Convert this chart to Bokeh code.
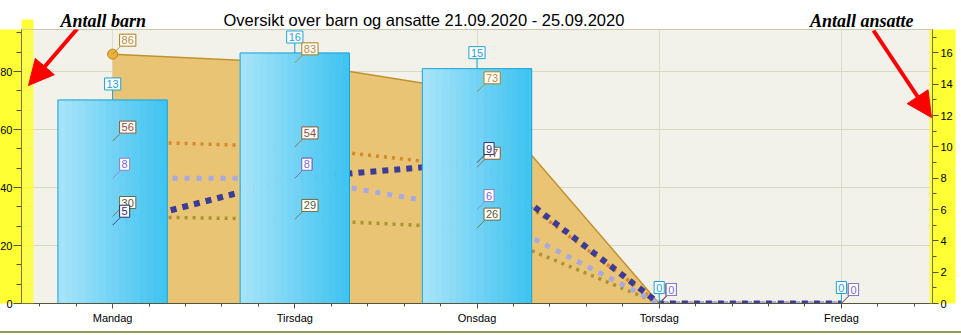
import math
from bokeh.plotting import figure
from bokeh.layouts import column
from bokeh.models import (Range1d, LinearAxis, SingleIntervalTicker, Label, Arrow, NormalHead,
                          BoxAnnotation)
from bokeh.core.properties import value
from bokeh.embed import file_html
from bokeh.resources import INLINE

# ---------------- data ----------------
days = ["Mandag", "Tirsdag", "Onsdag", "Torsdag", "Fredag"]
barn_total = [86, 83, 73, 0, 0]        # area, left axis
barn_gruppe_a = [56, 54, 47, 0, 0]     # orange dotted, left axis
barn_gruppe_b = [30, 29, 26, 0, 0]     # olive dotted, left axis
ansatte_total = [13, 16, 15, 0, 0]     # bars, right axis
ansatte_a = [5, 8, 9, 0, 0]            # navy dotted, right axis
ansatte_b = [8, 8, 6, 0, 0]            # lilac dotted, right axis
title_text = "Oversikt over barn og ansatte 21.09.2020 - 25.09.2020"
note_left = "Antall barn"
note_right = "Antall ansatte"

FONT = "Liberation Sans"
NOTE_FONT = "Liberation Serif"
YELLOW = "#ffff33"
SHIFT = 4                 # canvas shifted left so the frame starts where the original one does
W = 961 + SHIFT
HEAD_H = 29
FRAME_L = 21              # frame left edge in page pixels
FRAME_R = 932             # frame right edge in page pixels
x = list(range(len(days)))

# ---------------- header strip (title + notes) ----------------
hd = figure(width=W, height=HEAD_H, output_backend="svg", toolbar_location=None,
            x_range=Range1d(FRAME_L, FRAME_R), y_range=Range1d(HEAD_H, 0),
            x_axis_type=None, y_axis_type=None, min_border=0,
            min_border_left=21 + SHIFT, min_border_right=29)
hd.outline_line_color = None
hd.background_fill_color = "white"
hd.border_fill_color = "white"
hd.grid.visible = False
hd.add_layout(BoxAnnotation(left=FRAME_L, right=33, top=19, bottom=HEAD_H, fill_color=YELLOW,
                            fill_alpha=1, line_color=None))
hd.add_layout(Label(x=223, y=19, text=title_text, text_font=FONT, text_font_size="16.5px",
                    text_color="black", text_baseline="alphabetic"))
hd.add_layout(Label(x=60, y=20, text=note_left, text_font=NOTE_FONT,
                    text_font_style="bold italic", text_font_size="18px",
                    text_color="black", text_baseline="alphabetic"))
hd.add_layout(Label(x=913, y=20, text=note_right, text_font=NOTE_FONT,
                    text_font_style="bold italic", text_font_size="18px",
                    text_color="black", text_baseline="alphabetic", text_align="right"))

# ---------------- main chart ----------------
p = figure(width=W, height=304, output_backend="svg", toolbar_location=None, title=None,
           x_range=Range1d(-0.5, len(days) - 0.5), y_range=Range1d(0, 94.5),
           min_border_left=21 + SHIFT, min_border_right=29, min_border_top=0, min_border_bottom=30)
p.extra_y_ranges = {"ansatte": Range1d(0, 17.5)}
p.styles = {"border-bottom": "2px solid #8c9a56"}

p.background_fill_color = "#f2f1ea"
p.border_fill_color = "white"
p.outline_line_color = "#c9c9b2"

AX = "#55553a"
# x axis
xa = p.xaxis[0]
xa.ticker = SingleIntervalTicker(interval=1, num_minor_ticks=5)
xa.major_label_overrides = {i: d for i, d in enumerate(days)}
xa.major_tick_out = 5
xa.major_tick_in = 0
xa.minor_tick_out = 3
xa.minor_tick_in = 0
xa.major_label_standoff = 3
xa.axis_line_color = AX
xa.major_tick_line_color = AX
xa.minor_tick_line_color = AX
xa.major_label_text_font = FONT
xa.major_label_text_font_size = "11px"
xa.major_label_text_color = "black"

# left axis
ya = p.yaxis[0]
ya.ticker = SingleIntervalTicker(interval=20, num_minor_ticks=3)
ya.major_tick_out = 8
ya.major_tick_in = 0
ya.minor_tick_out = 5
ya.minor_tick_in = 0
ya.major_label_standoff = 1
ya.axis_line_color = AX
ya.major_tick_line_color = AX
ya.minor_tick_line_color = AX
ya.major_label_text_font = FONT
ya.major_label_text_font_size = "11px"
ya.major_label_text_color = "black"
ya.background_fill_color = YELLOW

# right axis
ra = LinearAxis(y_range_name="ansatte", ticker=SingleIntervalTicker(interval=2, num_minor_ticks=2))
ra.major_tick_out = 6
ra.major_tick_in = 0
ra.minor_tick_out = 4
ra.minor_tick_in = 0
ra.major_label_standoff = 2
ra.axis_line_color = AX
ra.major_tick_line_color = AX
ra.minor_tick_line_color = AX
ra.major_label_text_font = FONT
ra.major_label_text_font_size = "11px"
ra.major_label_text_color = "black"
ra.background_fill_color = YELLOW
p.add_layout(ra, "right")

p.xgrid.grid_line_color = "#dcdcc9"
p.ygrid.grid_line_color = "#d9d8c2"
p.ygrid.ticker = ya.ticker

# ---------------- area (children total) ----------------
p.varea(x=x, y1=0, y2=barn_total, fill_color="#eac475")
p.line(x=x, y=barn_total, line_color="#c0922f", line_width=1.5)
nz = [i for i, v in enumerate(barn_total) if v > 0]
p.scatter(x=[x[i] for i in nz], y=[barn_total[i] for i in nz], size=10,
          fill_color="#e9b03c", line_color="#c08a22", line_width=1)

# ---------------- dotted lines ----------------
p.line(x=x, y=barn_gruppe_a, line_color="#d4892a", line_width=3.5, line_dash="3 5")
p.line(x=x, y=barn_gruppe_b, line_color="#a89432", line_width=3.5, line_dash="3 5")
p.line(x=x, y=ansatte_b, line_color="#a9a9e2", line_width=5, line_dash="5 7", y_range_name="ansatte")
p.line(x=x, y=ansatte_a, line_color="#3c3c96", line_width=6, line_dash="6 6", y_range_name="ansatte")

# ---------------- gradient bars (staff total) ----------------
BAR_W = 0.6
N = 16
c0 = (166, 227, 249)
c1 = (64, 196, 242)
bx = [x[i] for i, v in enumerate(ansatte_total) if v > 0]
btop = [v for v in ansatte_total if v > 0]
for k in range(N):
    t = k / (N - 1)
    col = "#%02x%02x%02x" % tuple(int(round(a + (b - a) * t)) for a, b in zip(c0, c1))
    off = -BAR_W / 2 + (k + 0.5) * BAR_W / N
    p.vbar(x=[xi + off for xi in bx], width=BAR_W / N, top=btop, bottom=0,
           fill_color=col, line_color=col, line_width=0.6, y_range_name="ansatte")
p.vbar(x=bx, width=BAR_W, top=btop, bottom=0, fill_color=None,
       line_color="#1ca4d6", line_width=1, y_range_name="ansatte")

# yellow highlight bands overlapping the plot edges
px_per_cat = (FRAME_R - FRAME_L) / len(days)
p.add_layout(BoxAnnotation(left=-0.5, right=-0.5 + (33 - FRAME_L) / px_per_cat, fill_color=YELLOW,
                           fill_alpha=0.85, line_color=None))
p.add_layout(BoxAnnotation(left=len(days) - 0.5 - (FRAME_R - 929) / px_per_cat, right=len(days) - 0.5,
                           fill_color=YELLOW, fill_alpha=0.85, line_color=None))

# ---------------- value labels ----------------
def box_labels(ys, text_col, border_col, range_name="default", bar=False):
    kw = {"y_range_name": range_name}
    common = dict(text=[str(v) for v in ys], padding=(2, 2), text_font=value(FONT),
                  text_font_size="11px", text_color=text_col,
                  background_fill_color="white", border_line_color=border_col, **kw)
    if bar:
        p.ray(x=x, y=ys, length=10, angle=math.pi / 2, length_units="screen",
              line_color=border_col, line_width=1, **kw)
        p.text(x=x, y=ys, x_offset=0, y_offset=-10, anchor="bottom_center",
               text_align="center", text_baseline="bottom", **common)
    else:
        p.ray(x=x, y=ys, length=11, angle=math.pi / 4, length_units="screen",
              line_color=border_col, line_width=1, line_alpha=0.8, **kw)
        p.text(x=x, y=ys, x_offset=7, y_offset=-8, anchor="bottom_left",
               text_align="left", text_baseline="bottom", **common)

box_labels(ansatte_total, "#1ca4d6", "#1ca4d6", "ansatte", bar=True)
box_labels(barn_total, "#c08a38", "#b07c12")
box_labels(barn_gruppe_a, "#8c4a3c", "#8a5a30")
box_labels(barn_gruppe_b, "#5a5a30", "#6a6a3a")
box_labels(ansatte_a, "#30307a", "#2c2c6c", "ansatte")
box_labels(ansatte_b, "#7a6ad0", "#8c7ad0", "ansatte")

# ---------------- arrows (screen units, frame-relative) ----------------
B = 303
for (xs, ys, xe, ye) in [(77, 28, 28, 85), (873, 30, 931, 117)]:
    p.add_layout(Arrow(end=NormalHead(size=25, fill_color="#ff0000", line_color="#ff0000"),
                       x_start=xs - FRAME_L, y_start=B - ys, x_end=xe - FRAME_L, y_end=B - ye,
                       start_units="screen", end_units="screen",
                       line_color="#ff0000", line_width=4))

root = column(hd, p, spacing=0)
root.styles = {"margin-left": "-%dpx" % SHIFT}
open("out.html", "w").write(file_html(root, INLINE))
